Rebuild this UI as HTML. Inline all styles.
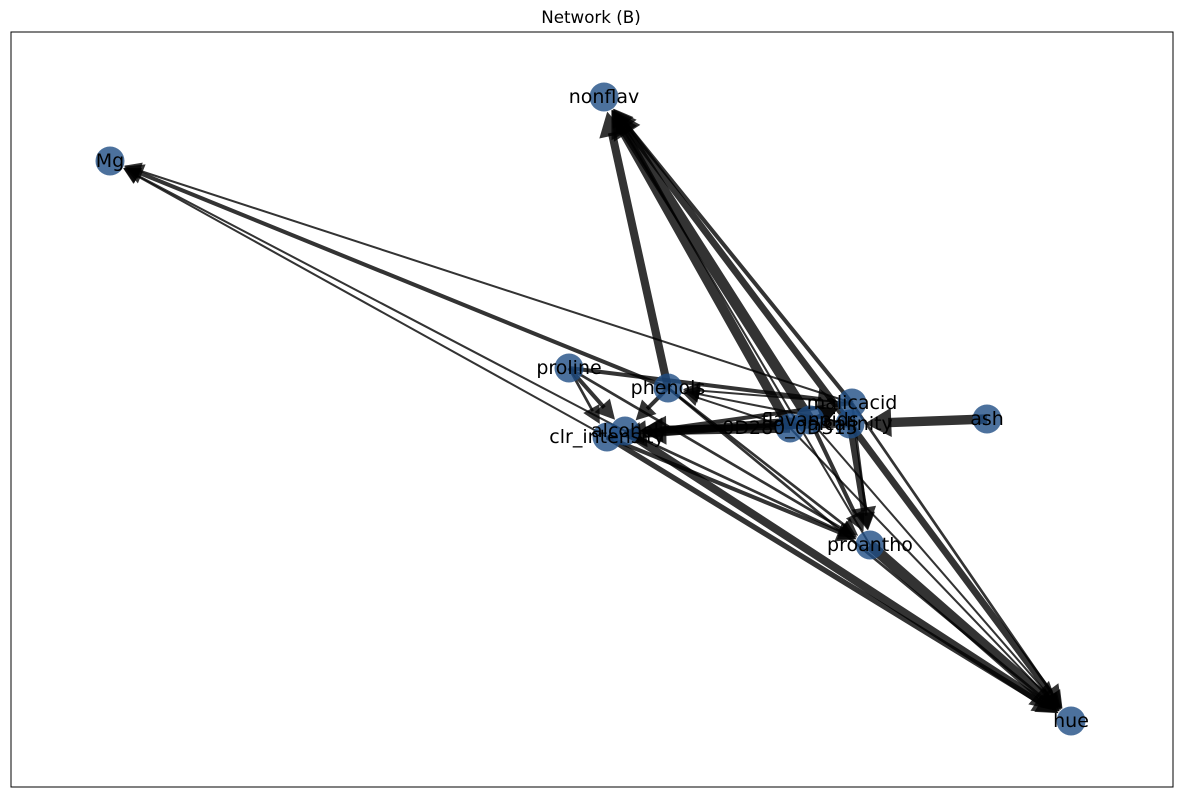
<!DOCTYPE html>
<html><head><meta charset="utf-8"><style>
body{margin:0;background:#fff;}
svg{display:block;font-family:"DejaVu Sans","Liberation Sans",sans-serif;}
</style></head><body>
<svg id="chart" width="1182" height="797" viewBox="0 0 1182 797">
<rect x="11" y="32" width="1162" height="755" fill="#fff" stroke="#000" stroke-width="1"/>
<text x="591" y="23" text-anchor="middle" font-size="16.7">Network (B)</text>
<g id="edges"></g><g id="nodes"></g><g id="labels"></g>
</svg>
<script>
const nodeNames=["nonflav","Mg","proline","phenols","alcohol","clr_intensity","malicacid","OD280_OD315","flavanoids","ash_alcalinity","ash","proantho","hue"];
const nodeX=[604,110,569,668,625,607,852,790,810,850,987,870,1071];
const nodeY=[97,161,368,388,431,437,403,428,420,424,419,545,721];
const labelText=["nonflav","Mg","proline","phenols","alcohol","clr_intensity","malicacid","0D280_0D315","flavanoids","alcalinity","ash","proantho","hue"];
const edgeSrc=["phenols","OD280_OD315","flavanoids","malicacid","ash_alcalinity","proantho","phenols","malicacid","clr_intensity","alcohol","proline","proline","proline","proline","phenols","phenols","phenols","OD280_OD315","flavanoids","ash_alcalinity","malicacid","OD280_OD315","flavanoids","malicacid","ash_alcalinity","OD280_OD315","ash","ash_alcalinity","flavanoids","malicacid","clr_intensity","alcohol","alcohol","clr_intensity","proantho","ash_alcalinity","malicacid","OD280_OD315","flavanoids"];
const edgeDst=["nonflav","nonflav","nonflav","nonflav","nonflav","nonflav","Mg","Mg","Mg","Mg","alcohol","clr_intensity","malicacid","proantho","alcohol","hue","proantho","alcohol","clr_intensity","alcohol","clr_intensity","malicacid","malicacid","phenols","phenols","phenols","ash_alcalinity","proantho","proantho","proantho","proantho","proantho","hue","hue","hue","hue","hue","hue","hue"];
const edgeW=[6,7,8,3,5,1.5,3,1.5,1.5,1.5,3,2,3,2,3,2,2,7,6,5,3,3,3,1.5,1.5,1.5,7,5,3,2,3,2,6,4,8,5,2,1.5,1.5];
const NS="http://www.w3.org/2000/svg";
const eg=document.getElementById('edges'),ng=document.getElementById('nodes'),lg=document.getElementById('labels');
function idx(n){return nodeNames.indexOf(n);}
for(let i=0;i<edgeSrc.length;i++){
  const a=idx(edgeSrc[i]),b=idx(edgeDst[i]);
  const x1=nodeX[a],y1=nodeY[a],x2=nodeX[b],y2=nodeY[b];
  const dx=x2-x1,dy=y2-y1,L=Math.hypot(dx,dy),ux=dx/L,uy=dy/L;
  const w=edgeW[i]*1.35;
  const r=15,tx=x2-ux*r,ty=y2-uy*r;
  const ah=14+w*1.3,aw=7+w*0.8;
  const bx=tx-ux*ah,by=ty-uy*ah;
  const ln=document.createElementNS(NS,'line');
  
  
  ln.setAttribute('x1',x1);ln.setAttribute('y1',y1);ln.setAttribute('x2',bx+ux*3);ln.setAttribute('y2',by+uy*3);
  ln.setAttribute('stroke','#000');ln.setAttribute('stroke-opacity','0.8');ln.setAttribute('stroke-width',w);
  eg.appendChild(ln);
  const p=document.createElementNS(NS,'polygon');
  
  
  p.setAttribute('points',`${tx},${ty} ${bx-uy*aw},${by+ux*aw} ${bx+uy*aw},${by-ux*aw}`);
  p.setAttribute('fill','#000');p.setAttribute('fill-opacity','0.8');
  eg.appendChild(p);
}
for(let i=0;i<nodeNames.length;i++){
  const c=document.createElementNS(NS,'circle');
  
  
  c.setAttribute('cx',nodeX[i]);c.setAttribute('cy',nodeY[i]);c.setAttribute('r',14.5);
  c.setAttribute('fill','#1f4e84');c.setAttribute('fill-opacity','0.8');
  ng.appendChild(c);
  const t=document.createElementNS(NS,'text');
  
  
  t.setAttribute('x',nodeX[i]);t.setAttribute('y',nodeY[i]+6);
  t.setAttribute('text-anchor','middle');t.setAttribute('font-size','19');
  t.textContent=labelText[i];
  lg.appendChild(t);
}
</script>
</body></html>
